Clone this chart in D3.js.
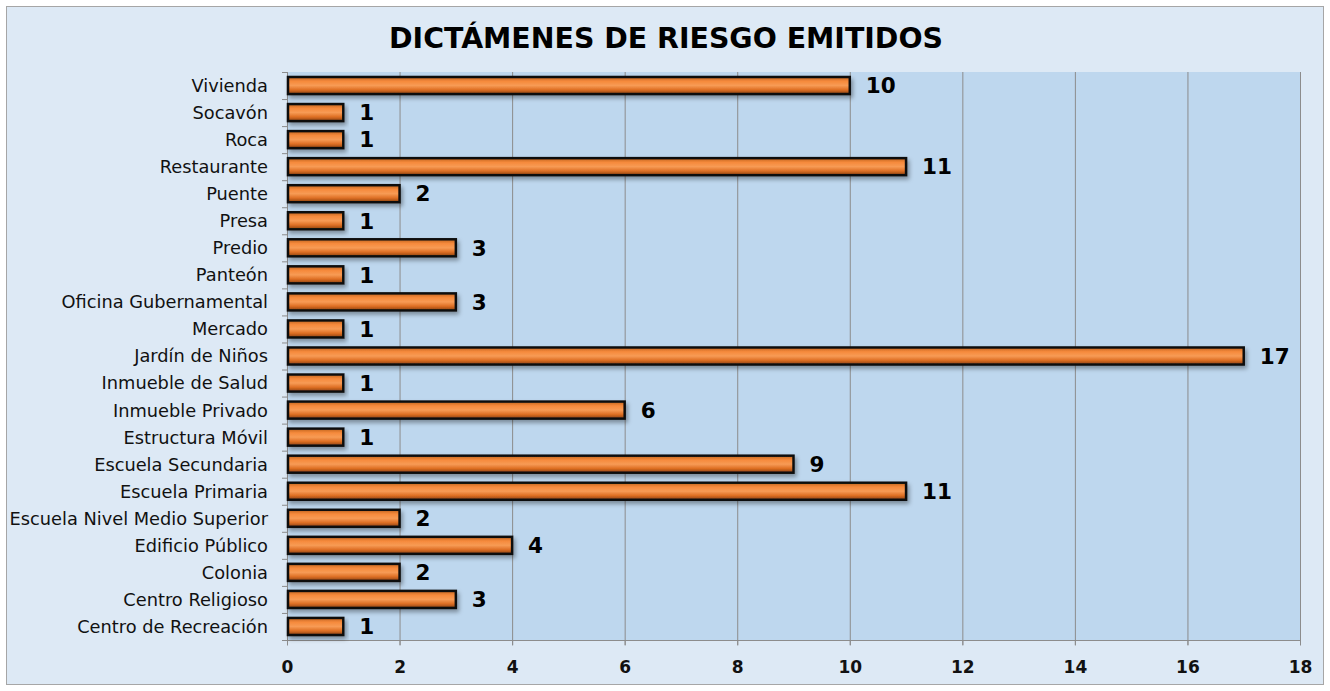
<!DOCTYPE html>
<html>
<head>
<meta charset="utf-8">
<script src="https://cdn.jsdelivr.net/npm/d3@7"></script>
<style>
  body { margin: 0; background: #fff; }
  svg { display: block; }
</style>
</head>
<body>
<svg id="chart" width="1330" height="691"></svg>
<script>
/** Categories, listed bottom to top as in the picture */
var categories = [
  "Centro de Recreación", "Centro Religioso", "Colonia", "Edificio Público",
  "Escuela Nivel Medio Superior", "Escuela Primaria", "Escuela Secundaria",
  "Estructura Móvil", "Inmueble Privado", "Inmueble de Salud", "Jardín de Niños",
  "Mercado", "Oficina Gubernamental", "Panteón", "Predio", "Presa", "Puente",
  "Restaurante", "Roca", "Socavón", "Vivienda"
];

/** Number of dictámenes per category */
var values = [1, 3, 2, 4, 2, 11, 9, 1, 6, 1, 17, 1, 3, 1, 3, 1, 2, 11, 1, 1, 10];

/** x axis ticks */
var xTicks = [0, 2, 4, 6, 8, 10, 12, 14, 16, 18];

var title = "DICTÁMENES DE RIESGO EMITIDOS";

// plot area
var plotLeft = 287, plotRight = 1300, plotTop = 72, plotBottom = 640;

var svg = d3.select("#chart");

// gradients / filters
var defs = svg.append("defs");
var grad = defs.append("linearGradient").attr("id", "barGrad")
    .attr("x1", 0).attr("y1", 0).attr("x2", 0).attr("y2", 1);
grad.append("stop").attr("offset", "0%").attr("stop-color", "#c0641f");
grad.append("stop").attr("offset", "25%").attr("stop-color", "#f68a3c");
grad.append("stop").attr("offset", "50%").attr("stop-color", "#f79b55");
grad.append("stop").attr("offset", "75%").attr("stop-color", "#de6f24");
grad.append("stop").attr("offset", "100%").attr("stop-color", "#8a4111");

var shadow = defs.append("filter").attr("id", "shadow")
    .attr("x", "-5%").attr("y", "-50%").attr("width", "115%").attr("height", "250%");
shadow.append("feDropShadow").attr("dx", 2).attr("dy", 3)
    .attr("stdDeviation", 2).attr("flood-color", "#000").attr("flood-opacity", 0.35);

// outer chart background
svg.append("rect")
    .attr("x", 6.5).attr("y", 6.5)
    .attr("width", 1317).attr("height", 678)
    .attr("fill", "#dde9f5")
    .attr("stroke", "#a6a6a6");

// plot area
svg.append("rect")
    .attr("x", plotLeft).attr("y", plotTop)
    .attr("width", plotRight - plotLeft).attr("height", plotBottom - plotTop)
    .attr("fill", "#bed7ee");

// title
svg.append("text")
    .attr("x", 666).attr("y", 48)
    .attr("text-anchor", "middle")
    .style("font-family", "'DejaVu Sans', Verdana, sans-serif")
    .style("font-weight", "bold")
    .style("font-size", "28.4px")
    .attr("fill", "#000")
    .text(title);

// scales
var x = d3.scaleLinear().domain([0, 18]).range([plotLeft, plotRight]);
var y = d3.scaleBand().domain(categories.slice().reverse())
    .range([plotTop, plotBottom]).paddingInner(0.37).paddingOuter(0.185);

// gridlines
svg.append("g").selectAll("line")
    .data(xTicks.filter(function(d){ return d > 0; }))
    .enter().append("line")
    .attr("x1", function(d){ return x(d) + 0.5; })
    .attr("x2", function(d){ return x(d) + 0.5; })
    .attr("y1", plotTop).attr("y2", plotBottom + 5)
    .attr("stroke", "#8c8c8c").attr("stroke-width", 1);

// x axis
var xAxis = d3.axisBottom(x).tickValues(xTicks).tickSize(5).tickPadding(15);
var gx = svg.append("g")
    .attr("transform", "translate(0," + (plotBottom + 0.5) + ")")
    .call(xAxis);
gx.select(".domain").attr("stroke", "#8c8c8c").attr("d", "M" + plotLeft + ",0H" + plotRight);
gx.selectAll(".tick line").attr("stroke", "#8c8c8c");
gx.selectAll(".tick text")
    .style("font-family", "'DejaVu Sans', Verdana, sans-serif")
    .style("font-weight", "bold")
    .style("font-size", "17px")
    .attr("fill", "#111");

// y axis (category boundaries as ticks)
var gy = svg.append("g");
gy.append("line")
    .attr("x1", plotLeft + 0.5).attr("x2", plotLeft + 0.5)
    .attr("y1", plotTop).attr("y2", plotBottom)
    .attr("stroke", "#8c8c8c");
gy.selectAll("line.tk")
    .data(d3.range(categories.length + 1))
    .enter().append("line").attr("class", "tk")
    .attr("x1", plotLeft - 5).attr("x2", plotLeft)
    .attr("y1", function(i){ return plotTop + i * (plotBottom - plotTop) / categories.length + 0.5; })
    .attr("y2", function(i){ return plotTop + i * (plotBottom - plotTop) / categories.length + 0.5; })
    .attr("stroke", "#8c8c8c");
gy.selectAll("text")
    .data(categories)
    .enter().append("text")
    .attr("x", plotLeft - 19)
    .attr("y", function(d){ return y(d) + y.bandwidth() / 2; })
    .attr("dy", "0.36em")
    .attr("text-anchor", "end")
    .style("font-family", "'DejaVu Sans', Tahoma, sans-serif")
    .style("font-size", "17.8px")
    .attr("fill", "#111")
    .text(function(d){ return d; });

// bars
svg.append("g").selectAll("rect")
    .data(categories)
    .enter().append("rect")
    .attr("x", x(0) + 1)
    .attr("y", function(d){ return y(d); })
    .attr("width", function(d, i){ return x(values[i]) - x(0) - 1; })
    .attr("height", y.bandwidth())
    .attr("fill", "url(#barGrad)")
    .attr("stroke", "#111")
    .attr("stroke-width", 2.5)
    .attr("filter", "url(#shadow)");

// value labels
svg.append("g").selectAll("text")
    .data(categories)
    .enter().append("text")
    .attr("x", function(d, i){ return x(values[i]) + 16; })
    .attr("y", function(d){ return y(d) + y.bandwidth() / 2; })
    .attr("dy", "0.36em")
    .style("font-family", "'DejaVu Sans', Verdana, sans-serif")
    .style("font-weight", "bold")
    .style("font-size", "21.5px")
    .attr("fill", "#000")
    .text(function(d, i){ return values[i]; });
</script>
</body>
</html>
